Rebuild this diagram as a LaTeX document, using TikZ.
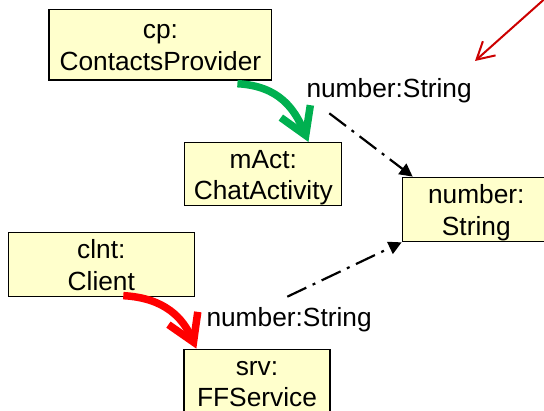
\documentclass[tikz,border=0pt]{standalone}
\usepackage{fontspec}
\setmainfont{Liberation Sans}
\usetikzlibrary{arrows.meta}
\definecolor{boxfill}{RGB}{255,255,204}
\definecolor{flowgreen}{RGB}{0,176,80}
\definecolor{flowred}{RGB}{255,0,0}
\definecolor{notered}{RGB}{204,0,0}
\newcommand\bxs{\rule[-6pt]{0pt}{31.5pt}}
\begin{document}
\begin{tikzpicture}[x=1pt,y=-1pt,
  objbox/.style={draw=black, line width=1.3pt, fill=boxfill, align=center, inner sep=0pt,
    font=\fontsize{26.3}{31.7}\selectfont},
  lbl/.style={font=\fontsize{26.3}{31.7}\selectfont, inner sep=0pt, anchor=base west},
  flow/.style={line width=7.5pt, -{Straight Barb[length=26pt,width=32pt]}},
  dep/.style={line width=2.2pt, dash pattern=on 21pt off 7pt on 3pt off 7pt,
    -{Triangle[length=13pt,width=13pt]}},
  notearrow/.style={draw=notered, line width=2pt, -{Straight Barb[length=17pt,width=19pt]}},
]
\useasboundingbox (0,0) rectangle (544,411);

\node[objbox, minimum width=222.7pt, minimum height=70.7pt] (cp) at (160.4,44.7)
  {\bxs cp:\\\bxs ContactsProvider};
\node[objbox, minimum width=157pt, minimum height=63pt] (mact) at (263.3,174.2)
  {\bxs mAct:\\\bxs ChatActivity};
\node[objbox, minimum width=148pt, minimum height=64.4pt] (str) at (476.3,209.5)
  {\bxs number:\\\bxs String};
\node[objbox, minimum width=186pt, minimum height=64pt] (clnt) at (101.3,264.7)
  {\bxs clnt:\\\bxs Client};
\node[objbox, minimum width=146pt, minimum height=64pt] (srv) at (257,381.3)
  {\bxs srv:\\\bxs FFService};

\node[lbl] (lbltop) at (306.3,97.3) {number:String};
\node[lbl] (lblbot) at (206.3,326.7) {number:String};

% flows
\draw[flow, draw=flowgreen] ([xshift=-35pt,yshift=-3pt]cp.south east)
  .. controls (280,86) and (295,110) .. ([xshift=-34pt]mact.north east);
\draw[flow, draw=flowred] ([xshift=22pt,yshift=1.7pt]clnt.south)
  .. controls (165,298) and (183,318) .. ([xshift=13pt]srv.north west);

% dependencies
\coordinate (dtop) at (329.3,113.3);
\coordinate (dbot) at (287.3,296.7);
\draw[dep] (dtop) -- ([xshift=11pt]str.north west);
\draw[dep] (dbot) -- (str.south west);

% note arrow
\coordinate (ntail) at (549,-5);
\coordinate (nhead) at (475,61);
\draw[notearrow] (ntail) -- (nhead);
\end{tikzpicture}
\end{document}
